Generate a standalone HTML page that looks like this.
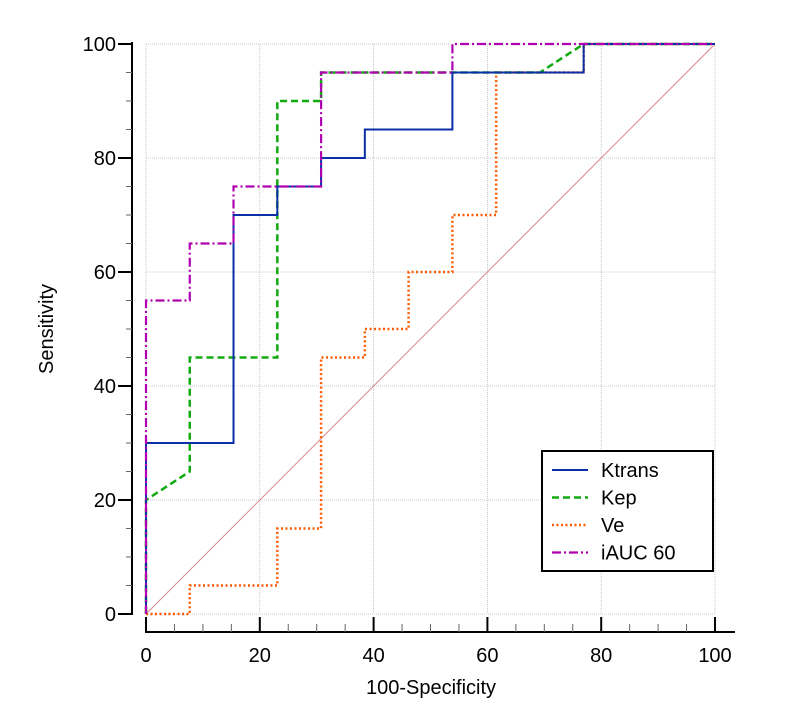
<!DOCTYPE html>
<html><head><meta charset="utf-8"><style>
body{margin:0;background:#fff}
svg{display:block;font-family:"Liberation Sans",Arial,sans-serif}
</style></head><body>
<svg id="chart" width="793" height="721"></svg>
<script>
const xTicks=[0,20,40,60,80,100];
const yTicks=[0,20,40,60,80,100];
const seriesNames=["Ktrans","Kep","Ve","iAUC 60"];
const ktransX=[0,0,15.38,15.38,23.08,23.08,30.77,30.77,38.46,38.46,53.85,53.85,76.92,76.92,100];
const ktransY=[0,30,30,70,70,75,75,80,80,85,85,95,95,100,100];
const kepX=[0,0,7.69,7.69,23.08,23.08,30.77,30.77,69.23,76.92,100];
const kepY=[0,20,25,45,45,90,90,95,95,100,100];
const veX=[0,7.69,7.69,23.08,23.08,30.77,30.77,38.46,38.46,46.15,46.15,53.85,53.85,61.54,61.54,76.92,76.92,100];
const veY=[0,0,5,5,15,15,45,45,50,50,60,60,70,70,95,95,100,100];
const iaucX=[0,0,7.69,7.69,15.38,15.38,30.77,30.77,53.85,53.85,100];
const iaucY=[0,55,55,65,65,75,75,95,95,100,100];
const NS="http://www.w3.org/2000/svg";
const svg=document.getElementById("chart");
const sx=v=>146+v*5.69, sy=v=>614-v*5.7;
function mk(t,a,p){const e=document.createElementNS(NS,t);for(const k in a)e.setAttribute(k,a[k]);(p||svg).appendChild(e);return e;}
for(let v=0;v<=100;v+=20){
 let g=mk("line",{x1:sx(v),x2:sx(v),y1:sy(100),y2:sy(0),stroke:"#bbb","stroke-width":0.8,"stroke-dasharray":"1,1"});
 
 
 let h=mk("line",{x1:sx(0),x2:sx(100),y1:sy(v),y2:sy(v),stroke:"#bbb","stroke-width":0.8,"stroke-dasharray":"1,1"});
 
 
}
let ya=mk("line",{x1:132,x2:132,y1:sy(100)-2,y2:sy(0)+1,stroke:"#000","stroke-width":2});


let xa=mk("line",{x1:sx(0)-1,x2:735,y1:632,y2:632,stroke:"#000","stroke-width":2});


for(let v=0;v<=100;v+=5){
 const maj=v%20===0;
 mk("line",{x1:maj?118:126,x2:132,y1:sy(v),y2:sy(v),stroke:maj?"#000":"#666","stroke-width":maj?2:1});
 mk("line",{x1:sx(v),x2:sx(v),y1:632,y2:maj?617:624,stroke:maj?"#000":"#666","stroke-width":maj?2:1});
}
yTicks.forEach(v=>{let t=mk("text",{x:116,y:sy(v)+7,"text-anchor":"end","font-size":20});t.textContent=v;
 
 });
xTicks.forEach(v=>{let t=mk("text",{x:sx(v),y:662,"text-anchor":"middle","font-size":20});t.textContent=v;
 
 });
let xt=mk("text",{x:431,y:694,"text-anchor":"middle","font-size":20});xt.textContent="100-Specificity";


let yt=mk("text",{x:0,y:0,"text-anchor":"middle","font-size":20,transform:"translate(53,329) rotate(-90)"});yt.textContent="Sensitivity";


let d=mk("line",{x1:sx(0),y1:sy(0),x2:sx(100),y2:sy(100),stroke:"#d9878f","stroke-width":1});


const styles=[
 {c:"#0b2fa8",w:2,da:""},
 {c:"#11aa11",w:2.5,da:"7,4"},
 {c:"#ff5a00",w:2.5,da:"2,2.5"},
 {c:"#b000b0",w:2.2,da:"9,3,2,3"}];
const data=[[veX,veY],[kepX,kepY],[ktransX,ktransY],[iaucX,iaucY]];
const order=[2,1,0,3];
order.forEach((si,i)=>{
 const [X,Y]=data[i];const s=styles[si];
 let p=mk("polyline",{points:X.map((x,j)=>sx(x)+","+sy(Y[j])).join(" "),fill:"none",stroke:s.c,"stroke-width":s.w,"stroke-dasharray":s.da});
 
 
});
const lg=mk("g",{});


mk("rect",{x:542,y:451,width:171,height:120,fill:"#fff",stroke:"#000","stroke-width":2},lg);
seriesNames.forEach((n,i)=>{
 const y=470+i*27.5,s=styles[i];
 const e=mk("g",{},lg);
 
 
 mk("line",{x1:552,x2:588,y1:y,y2:y,stroke:s.c,"stroke-width":s.w,"stroke-dasharray":s.da},e);
 const t=mk("text",{x:601,y:y+7,"font-size":20},e);t.textContent=n;
});
</script>
</body></html>
